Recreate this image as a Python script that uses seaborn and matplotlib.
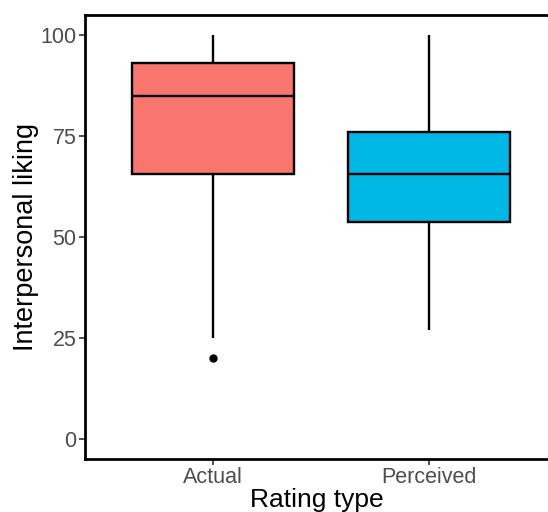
import numpy as np
import pandas as pd
import matplotlib
matplotlib.use("Agg")
import matplotlib.pyplot as plt
import seaborn as sns

# ratings (quartiles, whiskers, one outlier)
actual = [20, 25, 65.6, 72, 84.9, 89, 93.1, 97, 100]
perceived = [27, 45, 53.7, 60, 65.6, 70, 76, 88, 100]
categories = ["Actual", "Perceived"]
box_colors = ["#F8766D", "#00B8E5"]
y_ticks = [0, 25, 50, 75, 100]

df = pd.DataFrame({
    "rating": categories[0:1] * len(actual) + categories[1:2] * len(perceived),
    "liking": actual + perceived,
})

sns.set_theme(style="white")
plt.rcParams["font.family"] = ["Liberation Sans", "DejaVu Sans"]

fig = plt.figure(figsize=(5.48, 5.12), dpi=100)
ax = fig.add_axes([85 / 548, 1 - 459 / 512, 1 - 85 / 548, (459 - 15) / 512])

sns.boxplot(
    data=df, x="rating", y="liking", hue="rating", palette=box_colors,
    order=categories, hue_order=categories, legend=False,
    width=0.75, linecolor="black", linewidth=1.7, fliersize=5,
    saturation=1, ax=ax,
    flierprops=dict(marker="o", markerfacecolor="black", markeredgecolor="black"),
    capprops=dict(linewidth=0),
)

ax.set_ylim(-5, 105)
ax.set_xlim(-0.593, 1.55)
ax.set_yticks(y_ticks)
ax.set_yticklabels([str(t) for t in y_ticks])

for side in ["top", "left", "bottom"]:
    ax.spines[side].set_visible(True)
    ax.spines[side].set_color("black")
    ax.spines[side].set_linewidth(2.0)
ax.spines["right"].set_visible(False)

ax.tick_params(axis="both", which="major", length=4, width=1.2, color="#333333",
               labelsize=15.5, labelcolor="#4D4D4D", pad=2,
               left=True, bottom=True)
ax.set_xlabel("Rating type", fontsize=19, color="black", labelpad=0)
ax.set_ylabel("Interpersonal liking", fontsize=19.5, color="black", labelpad=1)

fig.savefig("out.png", dpi=100)
